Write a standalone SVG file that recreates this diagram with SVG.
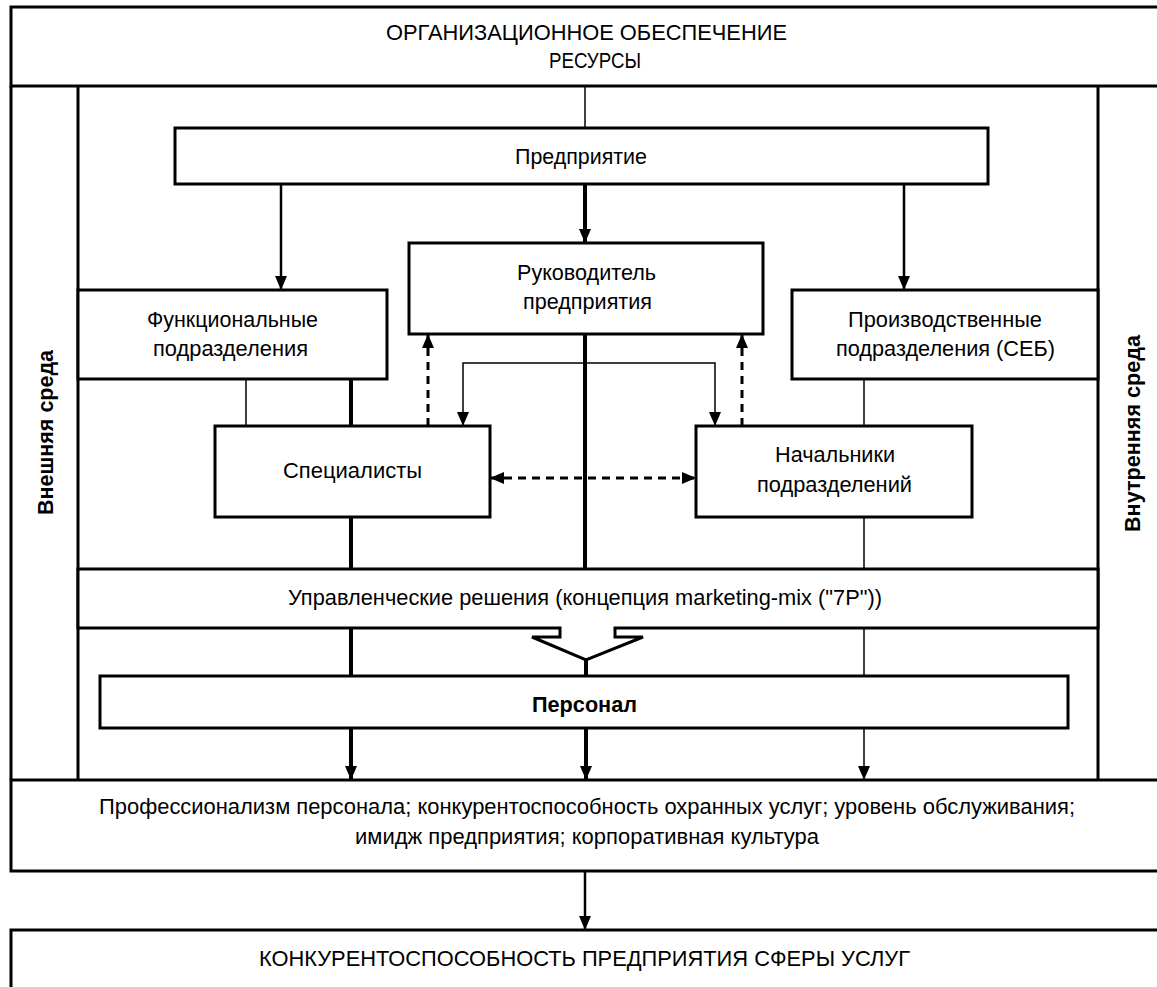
<svg xmlns="http://www.w3.org/2000/svg" width="1157" height="987" viewBox="0 0 1157 987">
<style>
  .box { fill: #fff; stroke: #000; stroke-width: 3; }
  .frame { fill: none; stroke: #000; stroke-width: 3; }
  .t { font-family: "Liberation Sans", Arial, sans-serif; font-size: 22.5px; fill: #000; }
  .b { font-weight: bold; }
  .thin { stroke: #000; stroke-width: 1.5; fill: none; }
  .mid { stroke: #000; stroke-width: 2.5; fill: none; }
  .thick { stroke: #000; stroke-width: 4; fill: none; }
  .dash { stroke: #000; stroke-width: 3; fill: none; stroke-dasharray: 8 6; }
</style>
<defs>
  <marker id="ah" viewBox="0 0 14 12" refX="14" refY="6" markerWidth="14" markerHeight="12" markerUnits="userSpaceOnUse" orient="auto-start-reverse">
    <path d="M0,0 L14,6 L0,12 Z" fill="#000"/>
  </marker>
</defs>
<rect width="1157" height="987" fill="#fff"/>

<g id="frame">
  <rect class="frame" x="11" y="7" width="1152" height="79"/>
  <line class="frame" x1="11" y1="86" x2="11" y2="780"/>
  <line class="frame" x1="78" y1="86" x2="78" y2="780"/>
  <line class="frame" x1="1098" y1="86" x2="1098" y2="780"/>
  <text class="t" x="386" y="40" textLength="401" lengthAdjust="spacingAndGlyphs">ОРГАНИЗАЦИОННОЕ ОБЕСПЕЧЕНИЕ</text>
  <text class="t" x="549" y="68" textLength="92" lengthAdjust="spacingAndGlyphs">РЕСУРСЫ</text>
  <text class="t b" transform="translate(53,515) rotate(-90)" textLength="165" lengthAdjust="spacingAndGlyphs">Внешняя среда</text>
  <text class="t b" transform="translate(1140,532) rotate(-90)" textLength="197" lengthAdjust="spacingAndGlyphs">Внутренняя среда</text>
</g>

<g id="connectors">
  <line class="thin" x1="585" y1="86" x2="585" y2="128"/>
  <line class="mid" x1="281" y1="184" x2="281" y2="290" marker-end="url(#ah)"/>
  <line class="thick" x1="585" y1="184" x2="585" y2="243" marker-end="url(#ah)"/>
  <line class="mid" x1="904" y1="184" x2="904" y2="290" marker-end="url(#ah)"/>
  <line class="thin" x1="246" y1="379" x2="246" y2="426"/>
  <line class="thick" x1="351" y1="379" x2="351" y2="426"/>
  <line class="thick" x1="351" y1="517" x2="351" y2="569"/>
  <line class="thick" x1="351" y1="628" x2="351" y2="676"/>
  <line class="thick" x1="351" y1="728" x2="351" y2="780" marker-end="url(#ah)"/>
  <line class="thick" x1="585" y1="334" x2="585" y2="569"/>
  <line class="thick" x1="586" y1="660" x2="586" y2="676"/>
  <line class="thick" x1="586" y1="728" x2="586" y2="780" marker-end="url(#ah)"/>
  <line class="thin" x1="864" y1="379" x2="864" y2="426"/>
  <line class="thin" x1="864" y1="517" x2="864" y2="569"/>
  <line class="thin" x1="864" y1="628" x2="864" y2="676"/>
  <line class="thin" x1="864" y1="728" x2="864" y2="780" marker-end="url(#ah)"/>
  <path class="thin" d="M463,426 V363 H715 V426" marker-start="url(#ah)" marker-end="url(#ah)"/>
  <line class="dash" x1="428" y1="426" x2="428" y2="334" marker-end="url(#ah)"/>
  <line class="dash" x1="742" y1="426" x2="742" y2="334" marker-end="url(#ah)"/>
  <line class="dash" x1="490" y1="478" x2="696" y2="478" marker-start="url(#ah)" marker-end="url(#ah)"/>
  <line class="mid" x1="585" y1="871" x2="585" y2="930" marker-end="url(#ah)"/>
</g>

<g id="n-predpriyatie">
  <rect class="box" x="175" y="128" width="813" height="56"/>
  <text class="t" x="515" y="164" textLength="132" lengthAdjust="spacingAndGlyphs">Предприятие</text>
</g>
<g id="n-rukovoditel">
  <rect class="box" x="409" y="243" width="354" height="91"/>
  <text class="t" x="517" y="280" textLength="139" lengthAdjust="spacingAndGlyphs">Руководитель</text>
  <text class="t" x="523" y="309" textLength="129" lengthAdjust="spacingAndGlyphs">предприятия</text>
</g>
<g id="n-funk">
  <rect class="box" x="78" y="290" width="309" height="89"/>
  <text class="t" x="147" y="327" textLength="171" lengthAdjust="spacingAndGlyphs">Функциональные</text>
  <text class="t" x="153" y="356" textLength="155" lengthAdjust="spacingAndGlyphs">подразделения</text>
</g>
<g id="n-proizv">
  <rect class="box" x="792" y="290" width="306" height="89"/>
  <text class="t" x="848" y="327" textLength="194" lengthAdjust="spacingAndGlyphs">Производственные</text>
  <text class="t" x="836" y="356" textLength="219" lengthAdjust="spacingAndGlyphs">подразделения (СЕБ)</text>
</g>
<g id="n-spec">
  <rect class="box" x="215" y="426" width="275" height="91"/>
  <text class="t" x="283" y="478" textLength="139" lengthAdjust="spacingAndGlyphs">Специалисты</text>
</g>
<g id="n-nach">
  <rect class="box" x="696" y="426" width="276" height="91"/>
  <text class="t" x="775" y="462" textLength="120" lengthAdjust="spacingAndGlyphs">Начальники</text>
  <text class="t" x="757" y="492" textLength="155" lengthAdjust="spacingAndGlyphs">подразделений</text>
</g>
<g id="n-upr">
  <path class="box" d="M78,569 H1098 V628 H615 V637 H643 L586,660 L532,637 H560 V628 H78 Z"/>
  <text class="t" x="288" y="605" textLength="594" lengthAdjust="spacingAndGlyphs">Управленческие решения (концепция marketing-mix ("7P"))</text>
</g>
<g id="n-personal">
  <rect class="box" x="100" y="676" width="968" height="52"/>
  <text class="t b" x="532" y="712" textLength="105" lengthAdjust="spacingAndGlyphs">Персонал</text>
</g>
<g id="n-prof">
  <rect class="box" x="11" y="780" width="1152" height="91"/>
  <text class="t" x="99" y="814" textLength="976" lengthAdjust="spacingAndGlyphs">Профессионализм персонала; конкурентоспособность охранных услуг; уровень обслуживания;</text>
  <text class="t" x="355" y="844" textLength="464" lengthAdjust="spacingAndGlyphs">имидж предприятия; корпоративная культура</text>
</g>
<g id="n-konk">
  <rect class="box" x="11" y="930" width="1152" height="70"/>
  <text class="t" x="259" y="966" textLength="651" lengthAdjust="spacingAndGlyphs">КОНКУРЕНТОСПОСОБНОСТЬ ПРЕДПРИЯТИЯ СФЕРЫ УСЛУГ</text>
</g>
</svg>
